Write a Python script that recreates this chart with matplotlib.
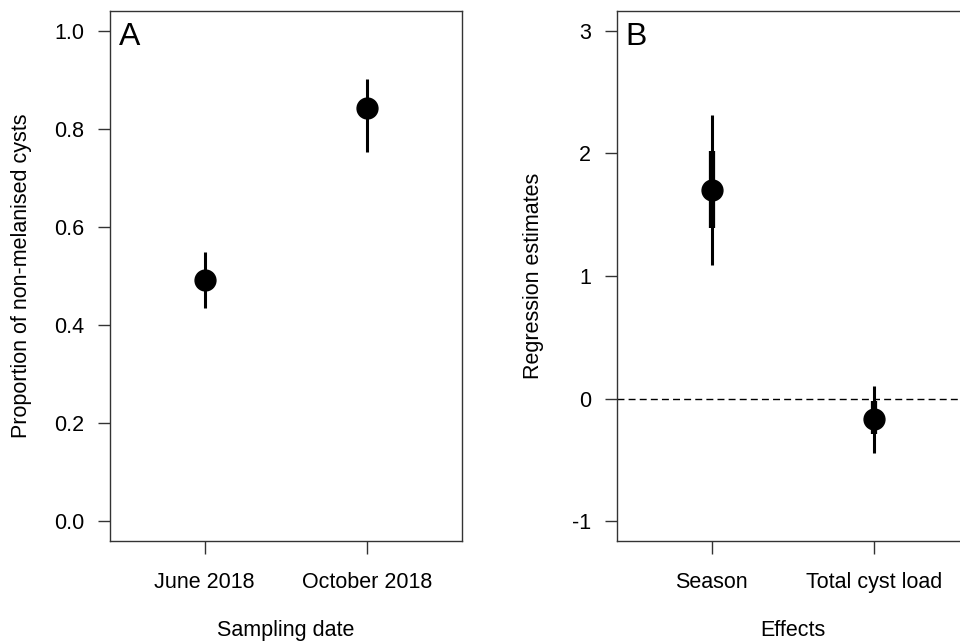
import numpy as np
import matplotlib
matplotlib.use("Agg")
import matplotlib.pyplot as plt

plt.rcParams['font.family'] = ['Liberation Sans', 'DejaVu Sans']

# painel A: proporção de cistos não melanizados
datas = ["June 2018", "October 2018"]
prop = [0.492, 0.843]
prop_lo = [0.435, 0.753]
prop_hi = [0.549, 0.902]

# painel B: estimativas da regressão
efeitos = ["Season", "Total cyst load"]
est = [1.698, -0.163]
ic95_lo = [1.086, -0.44]
ic95_hi = [2.31, 0.106]
ic50_lo = [1.39, -0.29]
ic50_hi = [2.02, -0.02]

fs = 15.5

fig = plt.figure(figsize=(9.6, 6.41), dpi=100)
axA = fig.add_axes([110/960, 100/641, 352/960, 530/641])
axB = fig.add_axes([617/960, 100/641, 352/960, 530/641])

x = np.arange(1, 3)

# --- A ---
axA.vlines(x, prop_lo, prop_hi, color='black', lw=2.2)
axA.plot(x, prop, 'o', color='black', ms=15)
axA.set_xlim(0.42, 2.58)
axA.set_ylim(-0.04, 1.04)
axA.set_yticks([0.0, 0.2, 0.4, 0.6, 0.8, 1.0])
axA.set_yticklabels(["0.0", "0.2", "0.4", "0.6", "0.8", "1.0"])
axA.set_xticks(x)
axA.set_xticklabels(datas)
axA.set_ylabel("Proportion of non-melanised cysts", fontsize=fs, labelpad=16)
axA.set_xlabel("Sampling date", fontsize=fs, labelpad=19)
axA.text(0.025, 0.98, "A", transform=axA.transAxes, fontsize=23, va='top', ha='left')

# --- B ---
axB.axhline(0, color='black', lw=1, ls=(0, (5, 3)), zorder=1)
axB.vlines(x, ic95_lo, ic95_hi, color='black', lw=2.2)
axB.vlines(x, ic50_lo, ic50_hi, color='black', lw=4.5)
axB.plot(x, est, 'o', color='black', ms=15)
axB.set_xlim(0.42, 2.58)
axB.set_ylim(-1.16, 3.16)
axB.set_yticks([-1, 0, 1, 2, 3])
axB.set_yticklabels(["-1", "0", "1", "2", "3"])
axB.set_xticks(x)
axB.set_xticklabels(efeitos)
axB.set_ylabel("Regression estimates", fontsize=fs, labelpad=20)
axB.set_xlabel("Effects", fontsize=fs, labelpad=19)
axB.text(0.025, 0.98, "B", transform=axB.transAxes, fontsize=23, va='top', ha='left')

for ax in (axA, axB):
    for s in ax.spines.values():
        s.set_linewidth(1)
        s.set_color('#333333')
    ax.tick_params(axis='both', labelsize=fs, length=9, width=1, color='#333333')
    ax.tick_params(axis='x', pad=13.5)
    ax.tick_params(axis='y', pad=9.5)

fig.savefig("out.png", dpi=100)
